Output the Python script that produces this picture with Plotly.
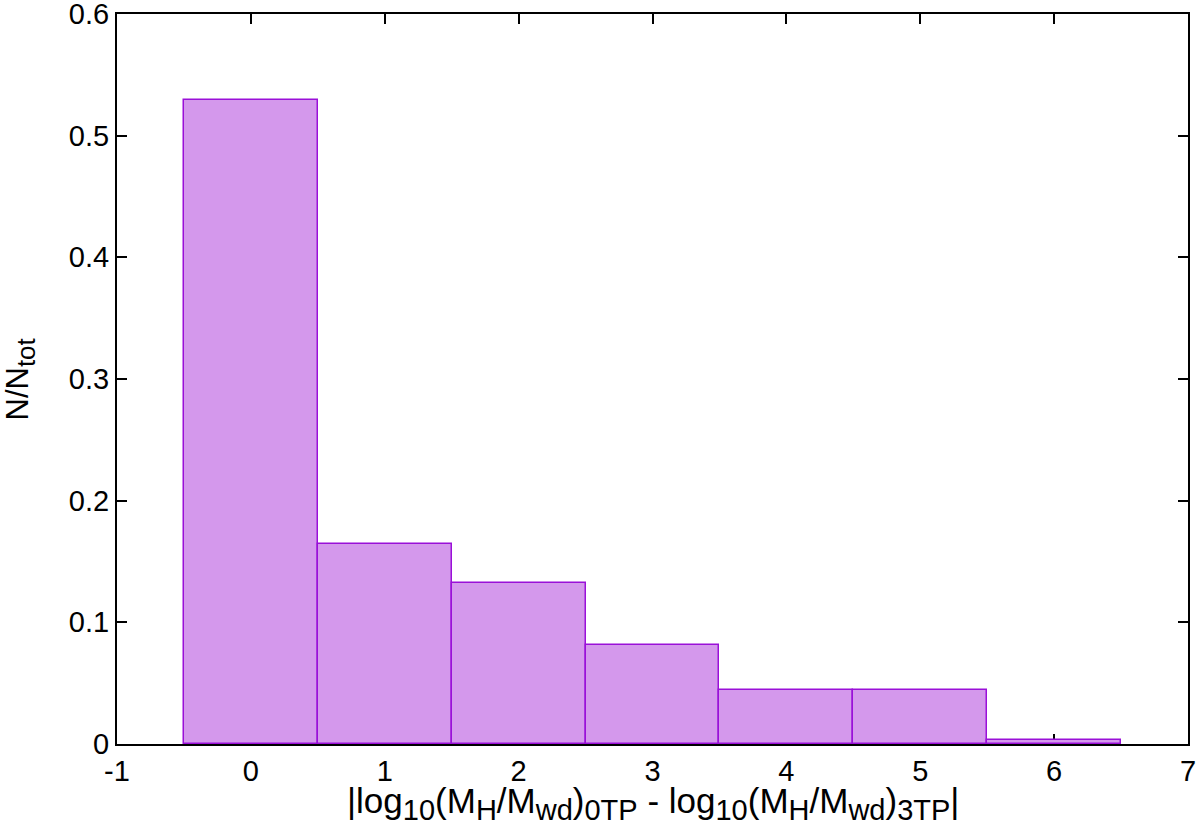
import plotly.graph_objects as go

bin_centers = [0, 1, 2, 3, 4, 5, 6]
fractions = [0.529, 0.164, 0.132, 0.081, 0.044, 0.044, 0.003]
x_ticks = [-1, 0, 1, 2, 3, 4, 5, 6, 7]
y_ticks = [0, 0.1, 0.2, 0.3, 0.4, 0.5, 0.6]
y_tick_text = ["0", "0.1", "0.2", "0.3", "0.4", "0.5", "0.6"]


def sub(t, size=29):
    return f'<sub><span style="font-size:{size}px">{t}</span></sub>'


x_title = ("|log" + sub("10") + "(M" + sub("H") + "/M" + sub("wd") + ")" + sub("0TP")
           + " - log" + sub("10") + "(M" + sub("H") + "/M" + sub("wd") + ")" + sub("3TP") + "|")
y_title = "N/N" + sub("tot", 26)

fig = go.Figure()
fig.add_trace(go.Bar(
    x=bin_centers, y=fractions, width=1,
    marker=dict(color="#d498ec", line=dict(color="#9a10d8", width=1.5)),
    showlegend=False,
))

font = "Liberation Sans, Arial, sans-serif"
fig.update_layout(
    width=1200, height=825,
    margin=dict(l=117, r=12, t=14, b=81),
    plot_bgcolor="white", paper_bgcolor="white",
    font=dict(family=font, size=29, color="black"),
    bargap=0,
)
axis_common = dict(
    showline=True, linecolor="black", linewidth=2, mirror="ticks",
    ticks="inside", ticklen=10, tickwidth=2, tickcolor="black",
    showgrid=False, zeroline=False, layer="below traces",
    tickfont=dict(size=29), automargin=False, ticklabeloverflow="allow",
)
fig.update_xaxes(
    range=[-1, 7], tickvals=x_ticks, ticktext=[str(v) for v in x_ticks],
    **axis_common,
)
fig.update_yaxes(
    range=[0, 0.6], tickvals=y_ticks, ticktext=y_tick_text,
    **axis_common,
)
fig.add_annotation(
    text=x_title, font=dict(size=35),
    xref="paper", yref="paper", x=0.5, y=-(802 - 743) / 729,
    xanchor="center", yanchor="middle", showarrow=False,
)
fig.add_annotation(
    text=y_title, textangle=-90, font=dict(size=31),
    xref="paper", yref="paper", x=-(117 - 21) / 1071, y=(743 - 379) / 729,
    xanchor="center", yanchor="middle", showarrow=False,
)
fig.write_html("out.html", config={"displayModeBar": False},
               post_script="document.body.style.margin='0';")
